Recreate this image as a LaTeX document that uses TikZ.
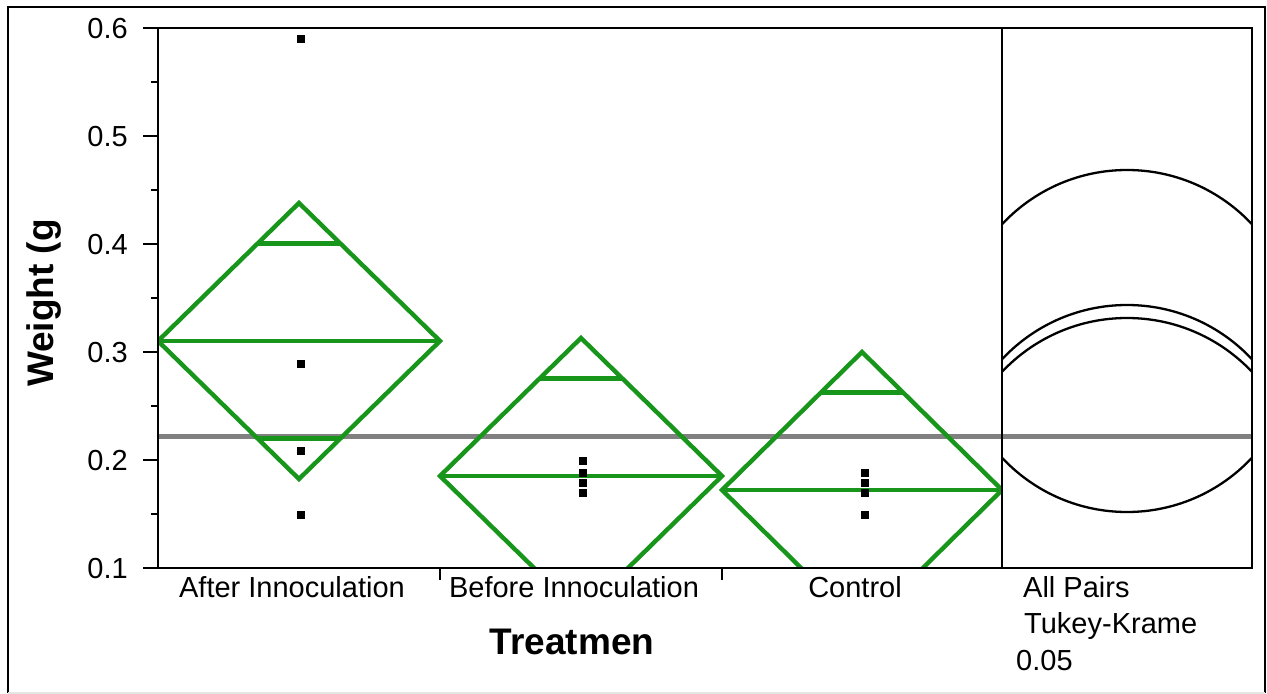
\documentclass[tikz,border=0pt]{standalone}
\usepackage{fontspec}
\setmainfont{Liberation Sans}
\definecolor{diamondgreen}{RGB}{23,150,27}
\definecolor{meangray}{RGB}{128,128,128}
\begin{document}
\begin{tikzpicture}[x=1bp,y=-1bp,
  txt/.style={inner sep=0pt, font=\fontsize{29bp}{34bp}\selectfont},
  ttl/.style={inner sep=0pt, font=\fontsize{37bp}{42bp}\selectfont\bfseries},
  axisline/.style={line width=2.6bp, black},
  diam/.style={draw=diamondgreen, line width=4.4bp, line join=miter},
  datapt/.style={rectangle, fill=black, inner sep=0pt, minimum size=8bp},
  cmpcircle/.style={line width=2.3bp, black},
  grandmean/.style={line width=5bp, meangray}]

\useasboundingbox (0,0) rectangle (1267,694);

% outer frame
\draw[line width=2bp] (8,693) -- (8,7) -- (1265,7) -- (1265,693);
\draw[line width=1.5bp, black!10] (8,693) -- (1265,693);

% grand mean line across both panels
\draw[grandmean] (158,436) -- (1252,436);

% means diamonds (clipped to the plot area)
\begin{scope}
  \clip (158,28) rectangle (1002,568);
  % After Innoculation
  \draw[diam] (158,341) -- (299,203) -- (440,341) -- (299,479) -- cycle;
  \draw[diam] (158,341) -- (440,341);
  \draw[diam] (258,243.4) -- (340,243.4);
  \draw[diam] (258,438.6) -- (340,438.6);
  % Before Innoculation
  \draw[diam] (440,476) -- (581,338) -- (722,476) -- (581,614) -- cycle;
  \draw[diam] (440,476) -- (722,476);
  \draw[diam] (540,378.4) -- (622,378.4);
  % Control
  \draw[diam] (722,490) -- (862,352) -- (1002,490) -- (862,628) -- cycle;
  \draw[diam] (722,490) -- (1002,490);
  \draw[diam] (821,392.4) -- (903,392.4);
\end{scope}

% comparison circles (clipped to the right panel)
\begin{scope}
  \clip (1002,28) rectangle (1252,568);
  \draw[cmpcircle] (1127,341) circle[radius=171bp];
  \draw[cmpcircle] (1127,476) circle[radius=171bp];
  \draw[cmpcircle] (1127,490) circle[radius=172bp];
\end{scope}

% observations
\node[datapt] (a1) at (301,39) {};
\node[datapt] (a2) at (301,364) {};
\node[datapt] (a3) at (301,451) {};
\node[datapt] (a4) at (301,515) {};
\node[datapt] (b1) at (583,461) {};
\node[datapt] (b2) at (583,473) {};
\node[datapt] (b3) at (583,483) {};
\node[datapt] (b4) at (583,493) {};
\node[datapt] (c1) at (865,473) {};
\node[datapt] (c2) at (865,483) {};
\node[datapt] (c3) at (865,493) {};
\node[datapt] (c4) at (865,515) {};

% plot frames
\draw[axisline] (158,28) rectangle (1002,568);
\draw[axisline] (1002,28) rectangle (1252,568);

% y axis ticks and labels
\foreach \yy/\lab in {568/0.1,460/0.2,352/0.3,244/0.4,136/0.5,28/0.6}{
  \draw[axisline] (143,\yy) -- (158,\yy);
  \node[txt, anchor=base east] (ytick\lab) at (128,\yy+10.4) {\lab};
}
\foreach \yy in {514,406,298,190,82}{
  \draw[axisline] (151,\yy) -- (158,\yy);
}

% x axis ticks
\draw[axisline] (440,568) -- (440,580);
\draw[axisline] (722,568) -- (722,580);

% category labels
\node[txt, anchor=base] (xafter) at (292,597) {After Innoculation};
\node[txt, anchor=base] (xbefore) at (574,597) {Before Innoculation};
\node[txt, anchor=base] (xcontrol) at (855,597) {Control};

% axis titles
\node[ttl, anchor=base] (xtitle) at (572,654) {Treatmen};
\node[ttl, rotate=90, anchor=center] (ytitle) at (44,303) {Weight (g};

% comparison legend
\node[txt, anchor=base west] (allpairs) at (1023,597) {All Pairs};
\node[txt, anchor=base west] (tukey) at (1024,633) {Tukey-Krame};
\node[txt, anchor=base west] (alpha) at (1016,670) {0.05};

\end{tikzpicture}
\end{document}
